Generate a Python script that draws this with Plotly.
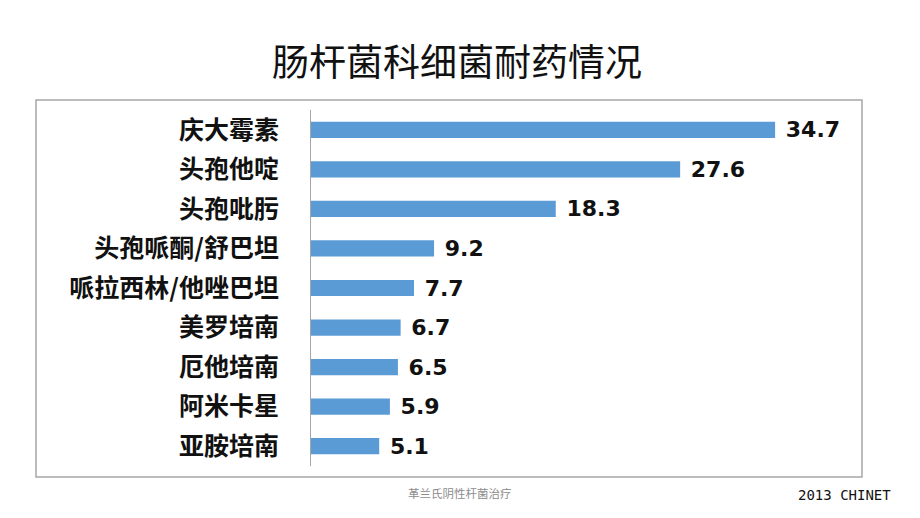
import plotly.graph_objects as go

categories = ["庆大霉素", "头孢他啶", "头孢吡肟", "头孢哌酮/舒巴坦", "哌拉西林/他唑巴坦",
              "美罗培南", "厄他培南", "阿米卡星", "亚胺培南"]
values = [34.7, 27.6, 18.3, 9.2, 7.7, 6.7, 6.5, 5.9, 5.1]
title_text = "肠杆菌科细菌耐药情况"
footer_text = "革兰氏阴性杆菌治疗"
source_text = "2013 CHINET"

cjk = "Noto Sans CJK SC"

fig = go.Figure()
fig.add_trace(go.Bar(
    x=values,
    y=categories,
    orientation="h",
    marker=dict(color="#5B9BD5", line=dict(width=0)),
    width=0.41,
    text=values,
    texttemplate=" %{x:.1f}",
    textposition="outside",
    constraintext="none",
    textfont=dict(family="DejaVu Sans", size=22, color="#111111", weight="bold"),
    cliponaxis=False,
    hoverinfo="skip",
))

fig.update_layout(
    width=920, height=518,
    margin=dict(l=311, r=74, t=110, b=52),
    paper_bgcolor="white", plot_bgcolor="white",
    showlegend=False,
    uniformtext=dict(mode=False),
    xaxis=dict(range=[0, 40], visible=False, fixedrange=True),
    yaxis=dict(
        categoryorder="array", categoryarray=categories[::-1],
        showline=True, linecolor="#A6A6A6", linewidth=1,
        ticks="", showgrid=False, zeroline=False,
        ticklabelstandoff=26,
        tickfont=dict(family=cjk, size=25, color="#111111", weight="bold"),
    ),
    shapes=[dict(type="rect", xref="paper", yref="paper",
                 x0=(36 - 311) / 535, x1=(862 - 311) / 535,
                 y0=(466 - 477) / 356, y1=(466 - 100) / 356,
                 line=dict(color="#A6A6A6", width=1.5), fillcolor="rgba(0,0,0,0)",
                 layer="below")],
    annotations=[
        dict(text=title_text, xref="paper", yref="paper",
             x=(457 - 311) / 535, y=(466 - 60) / 356, xanchor="center", yanchor="middle",
             showarrow=False, font=dict(family=cjk, size=37, color="#111111")),
        dict(text=footer_text, xref="paper", yref="paper",
             x=(460 - 311) / 535, y=(466 - 493) / 356, xanchor="center", yanchor="middle",
             showarrow=False, font=dict(family=cjk, size=11.5, color="#8C8C8C")),
        dict(text=source_text, xref="paper", yref="paper",
             x=(893 - 311) / 535, y=(466 - 495) / 356, xanchor="right", yanchor="middle",
             showarrow=False, font=dict(family="DejaVu Sans Mono", size=14, color="#111111")),
    ],
)

fig.write_html("out.html")
